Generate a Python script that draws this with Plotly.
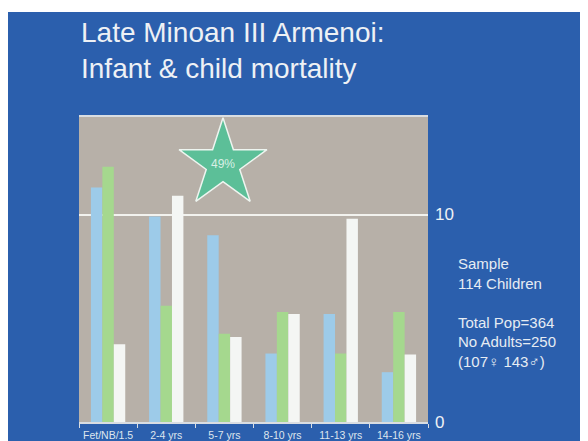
import plotly.graph_objects as go

# ---- data ----
categories = ["Fet/NB/1.5", "2-4 yrs", "5-7 yrs", "8-10 yrs", "11-13 yrs", "14-16 yrs"]
series_blue = [11.3, 9.9, 9.0, 3.3, 5.2, 2.4]
series_green = [12.3, 5.6, 4.25, 5.3, 3.3, 5.3]
series_white = [3.75, 10.9, 4.1, 5.2, 9.8, 3.25]
y_ticks = [0, 10]
star_label = "49%"
title_lines = ["Late Minoan III Armenoi:", "Infant & child mortality"]
side_lines = ["Sample", "114 Children", "", "Total Pop=364", "No Adults=250", "(107\u2640 143\u2642)"]

# the page places the figure 8px in from the top-left corner
OFF = 8
W, H = 588 - OFF, 441 - OFF
FONT = "Liberation Sans, Arial, Helvetica, sans-serif"
PAGE_BLUE = "#2b5fad"
PLOT_GRAY = "#b7b0a8"
TXT = "#eef1f5"

# plot area in page pixels, converted to figure pixels
px_l, px_r, px_t, px_b = 79 - OFF, 428 - OFF, 117 - OFF, 422 - OFF

fig = go.Figure()
for name, vals, col in [("Blue", series_blue, "#9dcbe9"),
                        ("Green", series_green, "#a5d88e"),
                        ("White", series_white, "#f4f6f4")]:
    fig.add_trace(go.Bar(x=categories, y=vals, name=name, marker_color=col,
                         marker_line_width=0, showlegend=False))

# star decoration on an overlay axis
fig.add_trace(go.Scatter(x=[0.4126], y=[0.846], xaxis="x2", yaxis="y2", mode="markers",
                         marker=dict(symbol="star", size=66, color="#5cbf98",
                                     line=dict(color="#eef5f0", width=1.5)),
                         showlegend=False, hoverinfo="skip"))

fig.update_layout(
    width=W, height=H,
    margin=dict(l=0, r=0, t=0, b=0, autoexpand=False),
    paper_bgcolor=PAGE_BLUE,
    plot_bgcolor=PLOT_GRAY,
    barmode="group", bargap=0.41, bargroupgap=0.0,
    font=dict(family=FONT, color=TXT),
    xaxis=dict(domain=[px_l / W, px_r / W], type="category", automargin=False,
               showline=True, linecolor="#d9dde2", linewidth=1.5, mirror=True,
               ticks="outside", tickson="boundaries", ticklen=4, tickcolor="#d9dde2",
               tickangle=0, ticklabelstandoff=3,
               tickfont=dict(size=10.5, color="#dfe6ee"), showgrid=False),
    yaxis=dict(domain=[1 - px_b / H, 1 - px_t / H], range=[0, 14.7], side="right",
               automargin=False,
               tickvals=y_ticks, showgrid=True, gridcolor="#f2f2ee", gridwidth=1.5,
               zeroline=False, showline=False, ticks="", ticklabelstandoff=6,
               tickfont=dict(size=17, color=TXT)),
    xaxis2=dict(overlaying="x", range=[0, 1], visible=False),
    yaxis2=dict(overlaying="y", range=[0, 1], visible=False),
    shapes=[
        dict(type="rect", xref="paper", yref="paper", x0=0, x1=1, y0=1 - 4 / H, y1=1,
             fillcolor="white", line_width=0, layer="above"),
    ],
    annotations=[
        dict(text="<br>".join(title_lines), xref="paper", yref="paper",
             x=(79 - OFF) / W, y=1 - (15 - OFF) / H, xanchor="left", yanchor="top",
             align="left", showarrow=False, font=dict(size=28, color=TXT, family=FONT)),
        dict(text="<br>".join(side_lines), xref="paper", yref="paper",
             x=(456 - OFF) / W, y=1 - (253 - OFF) / H, xanchor="left", yanchor="top",
             align="left", showarrow=False, font=dict(size=15, color="#e6ecf3", family=FONT)),
        dict(text=star_label, xref="x2", yref="y2", x=0.4126, y=0.846,
             showarrow=False, font=dict(size=12, color="#d8efe5", family=FONT)),
    ],
)
fig.write_html("out.html")
